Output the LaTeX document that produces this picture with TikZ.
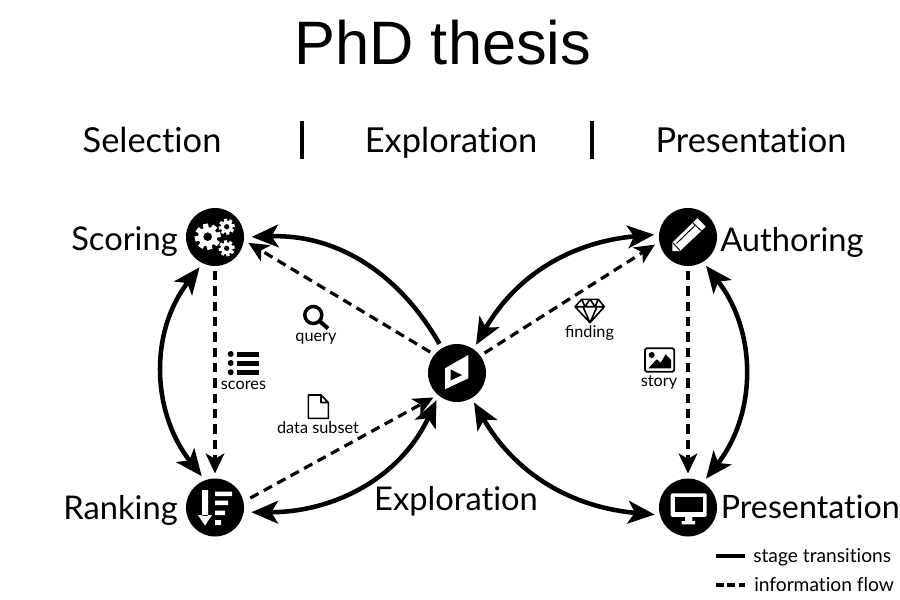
\documentclass[tikz,border=0pt]{standalone}
\usepackage{fontspec}
\setmainfont{Lato}[Ligatures=NoCommon]
\newfontfamily\ligfont{Lato}
\newfontfamily\titlefont{Liberation Sans}
\usetikzlibrary{arrows.meta,calc}
\tikzset{
  x=.75pt,y=-.75pt,
  stage/.style={circle,fill=black,minimum size=43.5pt,inner sep=0pt,outer sep=3.75pt},
  transition/.style={line width=3.4pt,-{Stealth[length=20pt,width=17pt,inset=5pt]}},
  transitionboth/.style={line width=3.4pt,{Stealth[length=20pt,width=17pt,inset=5pt]}-{Stealth[length=20pt,width=17pt,inset=5pt]}},
  flow/.style={line width=2.4pt,dash pattern=on 7pt off 4.5pt,-{Stealth[length=15pt,width=14pt,inset=4pt]}},
  biglabel/.style={font=\fontsize{24.5}{30}\selectfont,inner sep=0pt},
  header/.style={font=\fontsize{25.8}{32}\selectfont,inner sep=0pt,anchor=base},
  small/.style={font=\fontsize{12.2}{14}\selectfont,inner sep=0pt,anchor=base},
  legend/.style={font=\fontsize{14.4}{16}\selectfont,inner sep=0pt,anchor=base west},
  thinicon/.style={line width=1.2pt,line join=round},
}
\newcommand{\gearicon}[3]{%
  \foreach \a in {0,45,...,315}{\fill[white,shift={(#1,#2)},rotate=\a+10] ({-.2*#3},0) rectangle ({.2*#3},{#3});}
  \fill[white] (#1,#2) circle[radius={.74*#3}];
  \fill[black] (#1,#2) circle[radius={.33*#3}];
}
\begin{document}
\begin{tikzpicture}
\useasboundingbox (0,0) rectangle (900,600);
\fill[white] (0,0) rectangle (900,600);
% title & headers
\node[font=\fontsize{46}{50}\selectfont\titlefont,inner sep=0pt] (title) at (443,43) {PhD thesis};
\node[header] (hsel) at (152,152) {Selection};
\node[header] (hexp) at (451,152) {Exploration};
\node[header] (hpre) at (751,152) {Presentation};
\draw[line width=3pt] (302,121) -- (302,159);
\draw[line width=3pt] (592,121) -- (592,159);
% stages
\node[stage] (sc) at (215,237) {};
\node[stage] (ra) at (215,507.5) {};
\node[stage] (au) at (688,237) {};
\node[stage] (pr) at (688,507.5) {};
\node[stage] (ex) at (457,373) {};
% labels
\node[biglabel,anchor=base east] (lsc) at (178,250) {Scoring};
\node[biglabel,anchor=base east] (lra) at (178,519) {Ranking};
\node[biglabel,anchor=base west] (lau) at (720,251) {Authoring};
\node[biglabel,anchor=base west,font=\fontsize{24.2}{30}\selectfont] (lpr) at (720.5,518) {Presentation};
\node[biglabel,anchor=base] (lex) at (456,510) {Exploration};
% solid arcs
\draw[transitionboth] (sc.243) to[out=232,in=128] (ra.113);
\draw[transitionboth] (au.-58) to[out=-52,in=52] (pr.58);
\draw[transition,shorten >=2pt] (ex.121) to[out=120,in=2] (sc.0);
\draw[transitionboth,shorten >=2pt] (ex.233) to[out=245,in=0] (ra.-8);
\draw[transitionboth] (ex.56) to[out=60,in=185] (au.176);
\draw[transitionboth] (ex.-60) to[out=-60,in=175] (pr.192);
% dashed flows
\draw[flow] (ex.142) -- (sc.-10);
\draw[flow] (sc.-90) -- (ra.90);
\draw[flow,shorten <=2pt] (ra.14) -- (ex.226);
\draw[flow] (ex.36) -- (au.193);
\draw[flow] (au.-90) -- (pr.90);
% gears icon
\gearicon{226.7}{226.7}{8}
\gearicon{226.7}{248.3}{8}
\gearicon{207.7}{236.7}{13}
% ranking icon
\fill[white] (202,490) rectangle (208,516) (198,515) -- (212,515) -- (205,525.5) -- cycle;
\fill[white] (215,491.5) rectangle (232,496) (215,500.7) rectangle (228,505) (215,510.5) rectangle (225,515) (215,520) rectangle (221,525);
% explore icon
\fill[white,even odd rule] (445,368.3) -- (468.3,355) -- (468.3,378.3) -- (445,389.3) -- cycle
  (450.7,369.3) -- (450.7,380.7) -- (462.3,375) -- cycle;
% pencil icon
\fill[white,line join=round] (672.3,242.7) -- (697.3,218.3) -- (705.7,226.7) -- (680,251) -- (672.3,251) -- cycle;
\draw[black,line width=.7pt] (676.5,243.5) -- (695,225.5);
\draw[black,line width=.7pt] (692.5,222.5) -- (701.5,231);
\draw[black,line width=.7pt] (673,243) -- (680,250.5);
% monitor icon
\fill[white,rounded corners=1.5pt] (670.7,493.3) rectangle (706.7,516.9);
\fill[black] (675,497) rectangle (703.3,511.7);
\fill[white] (685,516) rectangle (692.3,522) (681.7,521) rectangle (695,524.3);
% query
\draw[line width=2.6pt] (313.3,315) circle[radius=8.5];
\draw[line width=3pt] (319.5,321) -- (328,328.5);
\node[small] (tq) at (316,341) {query};
% scores
\foreach \yy in {354,363,372.3}{
  \fill (230.7,\yy) circle[radius=3];
  \fill (236.7,\yy-2.5) rectangle (259.3,\yy+2.5);
}
\node[small] (ts) at (243.5,389) {scores};
% data subset
\draw[thinicon] (308.3,395) -- (321,395) -- (328.3,402.5) -- (328.3,418.3) -- (308.3,418.3) -- cycle (321,395) -- (321,402.5) -- (328.3,402.5);
\node[small] (td) at (318,433) {data subset};
% finding
\draw[thinicon] (575,306.7) -- (581.7,299.3) -- (598.3,299.3) -- (604.3,306.7) -- (590,322.7) -- cycle
  (575,306.7) -- (604.3,306.7) (583,306.7) -- (590,322.7) -- (597,306.7) (581.7,299.3) -- (585,306.7) -- (590,299.3) -- (595,306.7) -- (598.3,299.3);
\node[small,font=\fontsize{12.2}{14}\selectfont\ligfont] (tf) at (589.5,337) {finding};
% story
\draw[thinicon,line width=1.4pt,rounded corners=1.2pt] (645,348.3) rectangle (674.3,371.7);
\fill (651.7,355) circle[radius=3];
\fill (648.3,368.3) -- (656.7,359.3) -- (660.7,362.7) -- (665.7,354.3) -- (671,360) -- (671,368.3) -- cycle;
\node[small] (tst) at (659,386) {story};
% legend
\coordinate (l1a) at (716,556);
\coordinate (l1b) at (745,556);
\coordinate (l2a) at (716,585);
\coordinate (l2b) at (745,585);
\draw[line width=2.5pt] (l1a) -- (l1b);
\draw[line width=2.5pt,dash pattern=on 6pt off 2.5pt] (l2a) -- (l2b);
\node[legend] (t1) at (753,562) {stage transitions};
\node[legend] (t2) at (754,591) {information flow};
\end{tikzpicture}
\end{document}
